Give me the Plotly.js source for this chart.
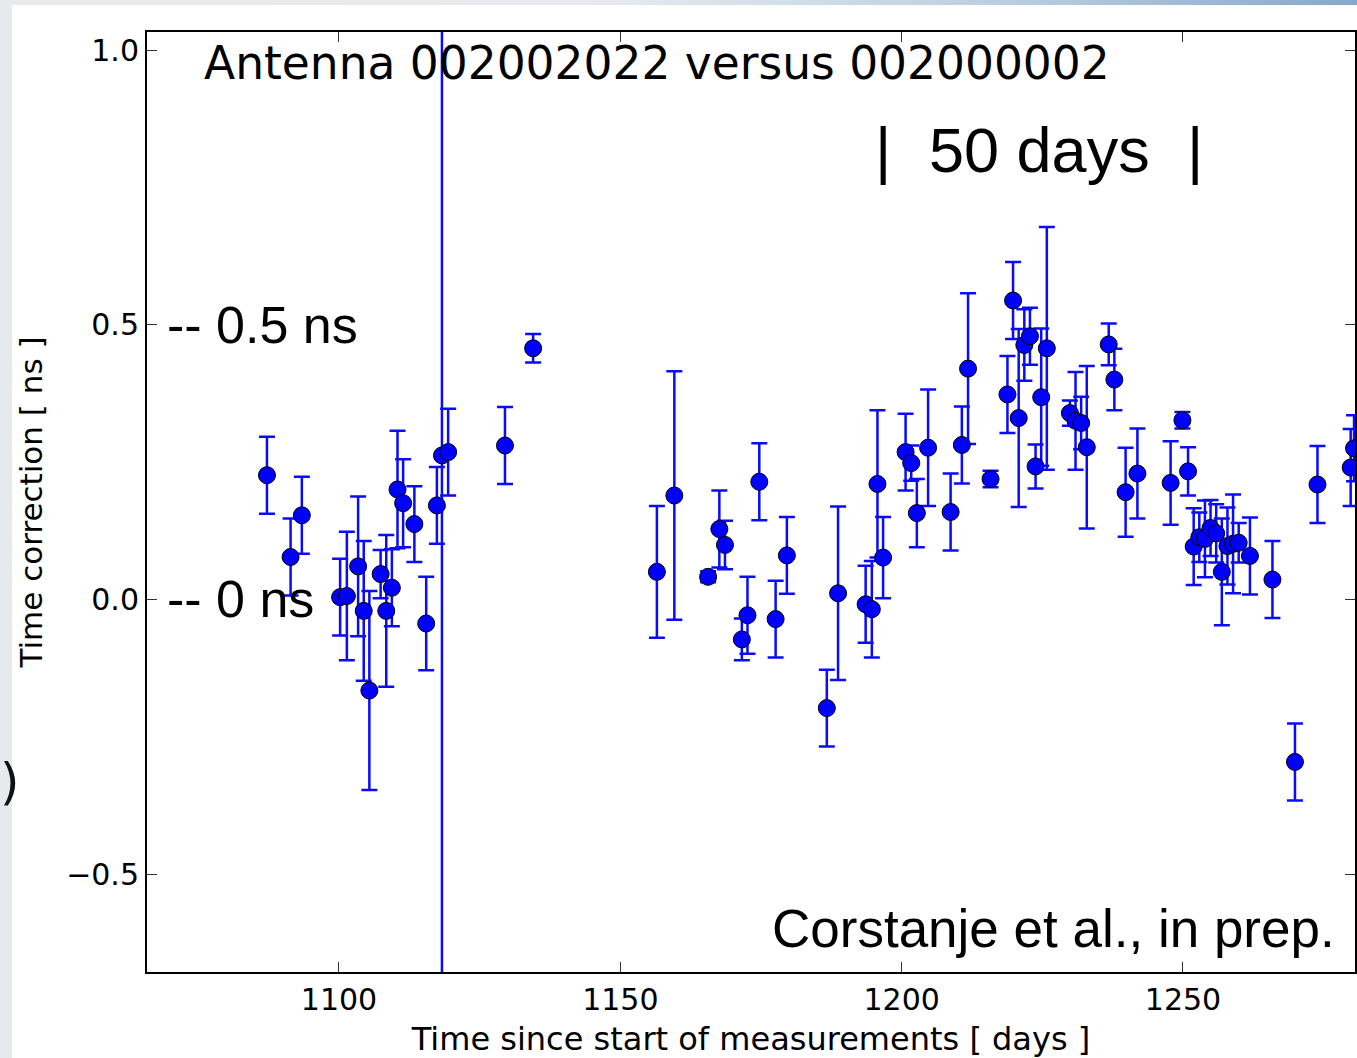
<!DOCTYPE html>
<html>
<head>
<meta charset="utf-8">
<script src="https://cdn.plot.ly/plotly-3.0.1.min.js"></script>
<style>
  html, body { margin: 0; padding: 0; width: 1357px; height: 1058px; overflow: hidden; background: #e7eaec; }
  #topstrip { position: absolute; left: 0; top: 0; width: 1357px; height: 5px;
    background: linear-gradient(to right, #e8ebed 0%, #e6eaee 45%, #b9cde0 75%, #86a8cc 100%); }
  #sheet { position: absolute; left: 12px; top: 5px; width: 1345px; height: 1053px; background: #ffffff; }
  #paren { position: absolute; left: 0px; top: 757px; font-family: "DejaVu Sans", sans-serif; font-size: 50px; color: #111; line-height: 1; }
  #chart { position: absolute; left: 0; top: 0; width: 1357px; height: 1058px; }
</style>
</head>
<body>
<div id="topstrip"></div>
<div id="sheet"></div>
<div id="paren">)</div>
<div id="chart"></div>
<script>
// ---- data ----
const days = [
  1087.2, 1091.4, 1093.4,
  1100.2, 1101.4, 1103.4, 1104.4, 1105.4, 1107.4, 1108.4, 1109.4, 1110.4, 1111.4,
  1113.4, 1115.5, 1117.4, 1118.3, 1119.4,
  1129.5, 1134.5,
  1156.5, 1159.6, 1165.6, 1167.6, 1168.6, 1171.6, 1172.6, 1174.7, 1177.6, 1179.6,
  1186.7, 1188.7,
  1193.6, 1194.7, 1195.7, 1196.7, 1200.7, 1201.7, 1202.7, 1204.7, 1208.7, 1210.7,
  1211.8, 1215.8, 1218.8, 1219.8, 1220.8, 1221.8, 1222.8, 1223.8, 1224.8, 1225.8,
  1229.9, 1230.9, 1231.9, 1232.9,
  1236.8, 1237.8, 1239.8, 1241.9, 1247.8, 1249.9, 1250.9,
  1251.9, 1252.9, 1253.9, 1254.9, 1255.9, 1256.9, 1257.9, 1258.9, 1259.9, 1261.9,
  1265.9, 1269.9, 1273.9, 1279.8, 1280.4
];
const timeCorrection = [
  0.226, 0.077, 0.153,
  0.004, 0.006, 0.060, -0.021, -0.166, 0.046, -0.021, 0.021, 0.200, 0.175,
  0.137, -0.044, 0.171, 0.262, 0.268,
  0.280, 0.457,
  0.050, 0.189, 0.041, 0.128, 0.099, -0.073, -0.029, 0.214, -0.036, 0.080,
  -0.198, 0.011,
  -0.009, -0.018, 0.210, 0.076, 0.268, 0.248, 0.157, 0.276, 0.159, 0.281,
  0.420, 0.219, 0.373, 0.544, 0.330, 0.463, 0.479, 0.242, 0.368, 0.457,
  0.339, 0.325, 0.321, 0.277,
  0.464, 0.400, 0.195, 0.229, 0.212, 0.326, 0.233,
  0.096, 0.113, 0.110, 0.130, 0.120, 0.050, 0.097, 0.101, 0.103, 0.079,
  0.036, -0.296, 0.209, 0.240, 0.275
];
const errorNs = [
  0.070, 0.070, 0.070,
  0.070, 0.117, 0.127, 0.127, 0.181, 0.044, 0.138, 0.070, 0.107, 0.080,
  0.069, 0.085, 0.070, 3.000, 0.079,
  0.070, 0.026,
  0.120, 0.226, 0.010, 0.070, 0.044, 0.038, 0.070, 0.070, 0.070, 0.070,
  0.070, 0.158,
  0.070, 0.088, 0.134, 0.074, 0.070, 0.032, 0.062, 0.106, 0.070, 0.070,
  0.137, 0.015, 0.070, 0.070, 0.162, 0.065, 0.052, 0.040, 0.125, 0.221,
  0.023, 0.089, 0.048, 0.148,
  0.038, 0.056, 0.081, 0.082, 0.076, 0.015, 0.044,
  0.070, 0.045, 0.070, 0.051, 0.053, 0.097, 0.070, 0.090, 0.036, 0.070,
  0.070, 0.070, 0.070, 0.070, 0.060
];
const xTicks = [1100, 1150, 1200, 1250];
const yTicks = [-0.5, 0.0, 0.5, 1.0];
const yTickText = ["\u22120.5", "0.0", "0.5", "1.0"];

const trace = {
  type: 'scatter',
  mode: 'markers',
  x: days,
  y: timeCorrection,
  error_y: { type: 'data', array: errorNs, visible: true, color: '#0a0aff', thickness: 2.5, width: 8 },
  marker: { color: '#0000ff', size: 17, line: { color: '#000000', width: 1 } },
  cliponaxis: true,
  hoverinfo: 'x+y'
};

const axisFont = { family: 'DejaVu Sans, sans-serif', size: 30, color: '#000' };
const bigFont = { family: 'Liberation Sans, Arial, sans-serif', color: '#000' };

const layout = {
  width: 1357, height: 1058,
  margin: { l: 147, r: 2, t: 32, b: 86, pad: 0 },
  paper_bgcolor: 'rgba(0,0,0,0)',
  plot_bgcolor: '#ffffff',
  showlegend: false,
  xaxis: {
    range: [1065.88, 1280.57],
    tickvals: xTicks, ticktext: xTicks.map(String),
    ticks: 'inside', ticklen: 10, tickwidth: 1, tickcolor: '#333',
    showline: true, linecolor: '#000', linewidth: 2, mirror: 'ticks',
    showgrid: false, zeroline: false,
    tickfont: axisFont,
    title: { text: 'Time since start of measurements [ days ]', font: { family: 'DejaVu Sans, sans-serif', size: 32, color: '#000' }, standoff: 15 },
    automargin: false
  },
  yaxis: {
    range: [-0.6784, 1.0328],
    tickvals: yTicks, ticktext: yTickText,
    ticks: 'inside', ticklen: 10, tickwidth: 1, tickcolor: '#333',
    showline: true, linecolor: '#000', linewidth: 2, mirror: 'ticks',
    showgrid: false, zeroline: false,
    tickfont: axisFont,
    title: { text: 'Time correction [ ns ]', font: { family: 'DejaVu Sans, sans-serif', size: 31, color: '#000' }, standoff: 14 },
    automargin: false
  },
  annotations: [
    { text: 'Antenna 002002022 versus 002000002', xref: 'paper', yref: 'paper', x: 0.4222, y: 0.966,
      xanchor: 'center', yanchor: 'middle', showarrow: false, font: { family: 'DejaVu Sans, sans-serif', size: 45.5, color: '#000' } },
    { text: '|', xref: 'paper', yref: 'paper', x: (883 - 147) / 1208, y: (972 - 150) / 940,
      xanchor: 'center', yanchor: 'middle', showarrow: false, font: Object.assign({ size: 63 }, bigFont) },
    { text: '50 days', xref: 'paper', yref: 'paper', x: (1039 - 147) / 1208, y: (972 - 150) / 940,
      xanchor: 'center', yanchor: 'middle', showarrow: false, font: Object.assign({ size: 63 }, bigFont) },
    { text: '|', xref: 'paper', yref: 'paper', x: (1195 - 147) / 1208, y: (972 - 150) / 940,
      xanchor: 'center', yanchor: 'middle', showarrow: false, font: Object.assign({ size: 63 }, bigFont) },
    { text: '-- 0.5 ns', xref: 'paper', yref: 'y', x: (165 - 147) / 1208, y: 0.5,
      xanchor: 'left', yanchor: 'middle', showarrow: false, font: Object.assign({ size: 52 }, bigFont) },
    { text: '-- 0 ns', xref: 'paper', yref: 'y', x: (165 - 147) / 1208, y: 0.0,
      xanchor: 'left', yanchor: 'middle', showarrow: false, font: Object.assign({ size: 52 }, bigFont) },
    { text: 'Corstanje et al., in prep.', xref: 'paper', yref: 'paper', x: (1337 - 147) / 1208, y: (972 - 928) / 940,
      xanchor: 'right', yanchor: 'middle', showarrow: false, font: Object.assign({ size: 53 }, bigFont) }
  ]
};

Plotly.newPlot('chart', [trace], layout, { displayModeBar: false, staticPlot: false });
</script>
</body>
</html>
